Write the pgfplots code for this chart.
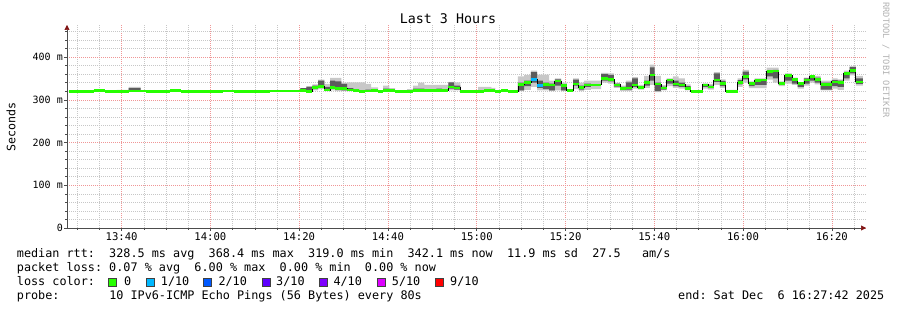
\documentclass[border=0pt]{standalone}
\usepackage{fontspec}
\setmainfont{DejaVu Sans Mono}
\usepackage{pgfplots}
\usepackage{pgfplotstable}
\usepgfplotslibrary{fillbetween}
\usetikzlibrary{arrows.meta}
\pgfplotsset{compat=1.18}
\definecolor{loss0}{RGB}{38,255,0}
\definecolor{loss1}{RGB}{0,184,255}
\definecolor{loss2}{RGB}{0,89,255}
\definecolor{loss3}{RGB}{94,0,255}
\definecolor{loss4}{RGB}{126,0,255}
\definecolor{loss5}{RGB}{221,0,255}
\definecolor{loss9}{RGB}{255,0,0}
\definecolor{smokelight}{RGB}{200,200,200}
\definecolor{smokedark}{RGB}{92,92,92}
\definecolor{mgrid}{RGB}{240,150,150}
\definecolor{arrowred}{RGB}{128,20,20}

% x: minutes after 13:00, values in ms (median, smoke min/max, inner smoke)
\pgfplotstableread{
x med lo hi dlo dhi
28.08 319 319 319 319 319
33.7 322 322 322 322 322
36.2 319 319 319 319 319
38.9 319 319 323 319 319
41.6 321 319 330 321 327
44.3 321 321 321 321 321
45.6 319 319 319 319 319
51.0 322 322 322 322 322
53.3 319 319 319 319 319
61.6 319 319 322 319 319
62.9 321 321 321 321 321
65.4 319 319 319 319 319
73.5 321 321 321 321 321
80.3 322 320 327 322 327
81.6 320 319 331 320 331
83.0 329 322 336 325 333
84.3 331 325 347 331 345
85.7 323 320 337 321 330
87.0 329 322 351 326 345
88.1 326 320 351 323 343
89.5 326 320 340 322 337
90.8 323 320 341 322 327
92.2 322 320 341 321 325
93.5 319 318 341 319 322
94.9 321 319 337 320 324
96.2 322 320 329 322 322
97.8 319 319 322 319 319
98.9 322 320 333 321 326
100.3 322 320 327 322 322
101.6 319 319 319 319 319
104.3 320 319 325 320 320
105.7 322 320 333 321 326
106.8 322 320 340 321 326
108.2 322 320 335 322 322
109.5 322 320 335 322 322
110.9 322 320 335 321 326
112.2 322 320 335 322 322
113.6 330 322 342 326 341
114.9 328 322 341 324 333
116.3 319 319 321 319 319
117.8 319 319 322 319 319
120.3 320 319 330 320 320
121.7 322 320 330 322 322
123.3 322 320 328 322 322
124.2 319 319 319 319 319
125.5 322 320 324 322 322
127.1 320 320 320 320 320
129.3 336 320 355 322 340
130.7 340 323 358 332 345
132.2 347 330 368 340 365
133.6 333 322 359 328 345
134.9 336 322 359 325 340
136.3 335 320 345 322 338
137.6 344 322 350 333 348
139.0 333 320 340 322 336
140.3 322 320 325 322 322
141.7 337 325 350 333 347
143.0 329 320 340 324 333
144.2 335 323 345 330 338
145.7 335 325 345 335 335
148.0 350 340 363 345 360
149.6 348 338 362 343 358
150.9 335 328 340 331 338
152.3 327 320 333 323 330
153.6 328 320 345 324 341
155.0 335 326 353 330 350
156.3 329 324 335 326 332
157.7 340 328 356 333 345
159.0 358 335 382 345 376
160.1 337 318 356 320 340
161.5 328 322 335 324 331
162.8 346 332 350 338 348
164.2 337 328 355 332 345
165.5 335 326 350 330 340
166.9 327 322 336 324 332
168.2 320 320 320 320 320
170.9 335 326 338 330 337
172.1 330 324 337 327 333
173.4 346 335 365 342 362
174.8 338 328 348 332 344
176.1 320 319 323 320 320
178.8 340 330 350 336 346
179.9 354 340 370 348 366
181.3 338 327 343 332 340
182.6 345 327 350 335 348
184.0 346 327 350 335 348
185.3 366 347 375 355 368
186.7 367 340 375 350 370
188.0 338 332 343 335 340
189.4 357 338 362 345 360
191.0 347 335 352 338 350
192.3 338 326 340 330 340
193.7 346 333 352 338 350
195.0 354 340 357 345 355
196.1 348 336 356 340 352
197.5 336 322 345 324 340
200.0 342 326 350 332 346
201.3 340 323 348 330 345
202.7 361 345 368 350 365
204.0 368.4 357 378 362 377
205.4 342 333 356 337 350
207.0 342 333 356 337 350
}\smoke

\begin{document}
\begin{tikzpicture}
\begin{axis}[
  at={(0pt,0pt)}, anchor=south west,
  scale only axis, width=799pt, height=203pt,
  xmin=27.7, xmax=207.7, ymin=0, ymax=475,
  axis x line=bottom, axis y line=left,
  axis line style={black!70, line width=0.6pt, -{Triangle[width=5pt,length=5pt,color=arrowred]}},
  xtick={40,60,...,200},
  xticklabels={13:40,14:00,14:20,14:40,15:00,15:20,15:40,16:00,16:20},
  minor xtick={30,35,45,50,55,65,70,75,85,90,95,105,110,115,125,130,135,145,150,155,165,170,175,185,190,195,205},
  ytick={0,100,200,300,400},
  yticklabels={0,100 m,200 m,300 m,400 m},
  minor ytick={20,40,60,80,120,140,160,180,220,240,260,280,320,340,360,380,420,440,460},
  grid=both,
  major grid style={draw=mgrid, dash pattern=on 1pt off 1pt, line width=0.5pt},
  minor grid style={draw=black!22, dash pattern=on 1pt off 1pt, line width=0.5pt},
  tick align=outside, major tick length=3pt, minor tick length=2pt,
  tick style={black!70, line width=0.5pt},
  xticklabel style={font=\fontsize{10.6}{12}\selectfont, inner sep=1pt},
  yticklabel style={font=\fontsize{10}{12}\selectfont, inner sep=1pt},
]
\addplot[name path=hi, draw=none, const plot] table[x=x,y=hi]{\smoke};
\addplot[name path=lo, draw=none, const plot] table[x=x,y=lo]{\smoke};
\addplot[fill=smokelight, draw=none] fill between[of=hi and lo];
\addplot[name path=dhi, draw=none, const plot] table[x=x,y=dhi]{\smoke};
\addplot[name path=dlo, draw=none, const plot] table[x=x,y=dlo]{\smoke};
\addplot[fill=smokedark, draw=none] fill between[of=dhi and dlo];
\addplot[const plot, black, line width=0.7pt] table[x=x,y=med]{\smoke};
\addplot[jump mark left, loss0, line width=2.6pt] table[x=x,y=med]{\smoke};
\addplot[jump mark left, loss1, line width=2.6pt] coordinates {(132.2,347) (133.6,333) (134.9,333)};
\end{axis}
% titles and labels
\node[anchor=base, font=\fontsize{13.3}{15}\selectfont] at (381pt,204pt) {Last 3 Hours};
\node[rotate=90, font=\fontsize{11.6}{13}\selectfont] at (-56pt,101pt) {Seconds};
\node[rotate=-90, font=\fontsize{8.7}{10}\selectfont, text=black!30] at (819pt,168pt) {RRDTOOL / TOBI OETIKER};
% legend rows
\begin{scope}[every node/.style={anchor=base west, inner sep=0pt, font=\fontsize{11.8}{14}\selectfont}]
\node at (-50.3pt,-30pt) {median~rtt:~~328.5~ms~avg~~368.4~ms~max~~319.0~ms~min~~342.1~ms~now~~11.9~ms~sd~~27.5~~~am/s};
\node at (-50.3pt,-44pt) {packet~loss:~0.07~\%~avg~~6.00~\%~max~~0.00~\%~min~~0.00~\%~now};
\node at (-50.3pt,-58pt) {loss~color:};
\node at (-50.3pt,-72pt) {probe:~~~~~~~10~IPv6-ICMP~Echo~Pings~(56~Bytes)~every~80s};
\node at (611pt,-72pt) {end:~Sat~Dec~~6~16:27:42~2025};
\node at (57pt,-58pt) {0};
\node at (93.7pt,-58pt) {1/10};
\node at (151.3pt,-58pt) {2/10};
\node at (209pt,-58pt) {3/10};
\node at (266.3pt,-58pt) {4/10};
\node at (324.7pt,-58pt) {5/10};
\node at (383pt,-58pt) {9/10};
\end{scope}
\begin{scope}[draw=black!75, line width=0.4pt]
\filldraw[fill=loss0] (41.3pt,-58pt) rectangle ++(8pt,8pt);
\filldraw[fill=loss1] (78.7pt,-58pt) rectangle ++(8pt,8pt);
\filldraw[fill=loss2] (136pt,-58pt) rectangle ++(8pt,8pt);
\filldraw[fill=loss3] (194.7pt,-58pt) rectangle ++(8pt,8pt);
\filldraw[fill=loss4] (252pt,-58pt) rectangle ++(8pt,8pt);
\filldraw[fill=loss5] (309.7pt,-58pt) rectangle ++(8pt,8pt);
\filldraw[fill=loss9] (368pt,-58pt) rectangle ++(8pt,8pt);
\end{scope}
\pgfresetboundingbox
\path[use as bounding box] (-67pt,-82pt) rectangle (830pt,228pt);
\end{tikzpicture}
\end{document}
